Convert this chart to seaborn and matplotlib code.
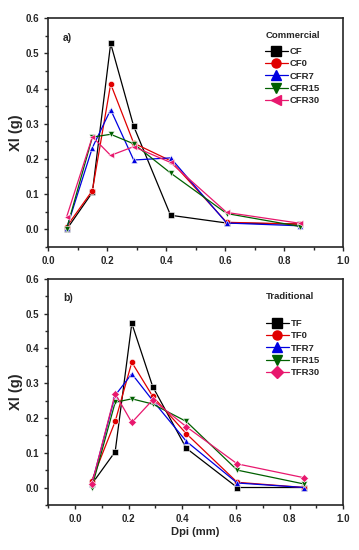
import pandas as pd
import numpy as np
import seaborn as sns
import matplotlib.pyplot as plt
from matplotlib.lines import Line2D
from matplotlib.ticker import MultipleLocator

dpi_mm = [0.063, 0.15, 0.212, 0.29, 0.415, 0.605, 0.855]

commercial = {
    "CF":    [0.000, 0.105, 0.528, 0.293, 0.040, 0.018, 0.015],
    "CF0":   [0.008, 0.110, 0.413, 0.245, 0.195, 0.020, 0.015],
    "CFR7":  [0.003, 0.232, 0.340, 0.197, 0.203, 0.018, 0.010],
    "CFR15": [0.002, 0.262, 0.270, 0.243, 0.160, 0.045, 0.008],
    "CFR30": [0.036, 0.263, 0.210, 0.235, 0.190, 0.048, 0.017],
}
traditional = {
    "TF":    [0.010, 0.103, 0.472, 0.290, 0.113, 0.000, 0.000],
    "TF0":   [0.020, 0.190, 0.360, 0.262, 0.155, 0.015, 0.000],
    "TFR7":  [0.010, 0.265, 0.327, 0.250, 0.133, 0.013, 0.000],
    "TFR15": [0.000, 0.245, 0.255, 0.240, 0.190, 0.050, 0.010],
    "TFR30": [0.010, 0.270, 0.187, 0.252, 0.175, 0.068, 0.028],
}

colors = ["#000000", "#e00000", "#0000e0", "#006000", "#e8186e"]


def to_long(d):
    rows = []
    for name, vals in d.items():
        for x, y in zip(dpi_mm, vals):
            rows.append({"Dpi": x, "Xl": y, "sample": name})
    return pd.DataFrame(rows)


def draw(ax, d, markers, title, label, xlim, title_gap):
    df = to_long(d)
    names = list(d.keys())
    sns.lineplot(data=df, x="Dpi", y="Xl", hue="sample", style="sample",
                 hue_order=names, style_order=names,
                 palette=colors, markers=dict(zip(names, markers)), dashes=False,
                 markersize=4.5, linewidth=0.9, markeredgewidth=0.4,
                 legend=False, ax=ax)
    ax.set_xlim(*xlim)
    ax.set_ylim(-0.05, 0.6)
    ax.xaxis.set_major_locator(MultipleLocator(0.2))
    ax.xaxis.set_minor_locator(MultipleLocator(0.1))
    ax.yaxis.set_major_locator(MultipleLocator(0.1))
    ax.yaxis.set_minor_locator(MultipleLocator(0.05))
    ax.tick_params(which="major", length=3, width=1, labelsize=7)
    ax.tick_params(which="minor", length=2, width=1)
    for lab in ax.get_xticklabels() + ax.get_yticklabels():
        lab.set_fontweight("bold")
    for s in ax.spines.values():
        s.set_linewidth(1.2)
    ax.set_ylabel("Xl (g)", fontsize=10.5, fontweight="bold", labelpad=2)
    ax.text(0.05, 0.9, label, transform=ax.transAxes, fontsize=7.5, fontweight="bold")
    handles = [Line2D([], [], color=c, marker=m, markersize=6.5, linewidth=0.9)
               for c, m in zip(colors, markers)]
    leg = ax.legend(handles, names, title=title, loc="upper right",
                    bbox_to_anchor=(0.95, 0.98),
                    frameon=False, fontsize=6.8, title_fontsize=6.8,
                    handlelength=2.4, handletextpad=0.2, labelspacing=0.35)
    leg._legend_box.align = "left"
    leg._legend_box.sep = title_gap
    leg.get_title().set_fontweight("bold")
    for t in leg.get_texts():
        t.set_fontweight("bold")


sns.set_style("ticks")
plt.rcParams["font.family"] = ["Liberation Sans", "DejaVu Sans"]

fig = plt.figure(figsize=(3.59, 5.5), dpi=100)
ax1 = fig.add_axes([0.134, 0.551, 0.822, 0.416])
ax2 = fig.add_axes([0.134, 0.082, 0.822, 0.411])

draw(ax1, commercial, ["s", "o", "^", "v", "<"], "Commercial", "a)", (0.0, 1.0), 5)
ax1.set_xlabel("")
draw(ax2, traditional, ["s", "o", "^", "v", "D"], "Traditional", "b)", (-0.1, 1.0), 13)
ax2.set_xlabel("Dpi (mm)", fontsize=8, fontweight="bold", labelpad=2)

fig.savefig("out.png", dpi=100)
